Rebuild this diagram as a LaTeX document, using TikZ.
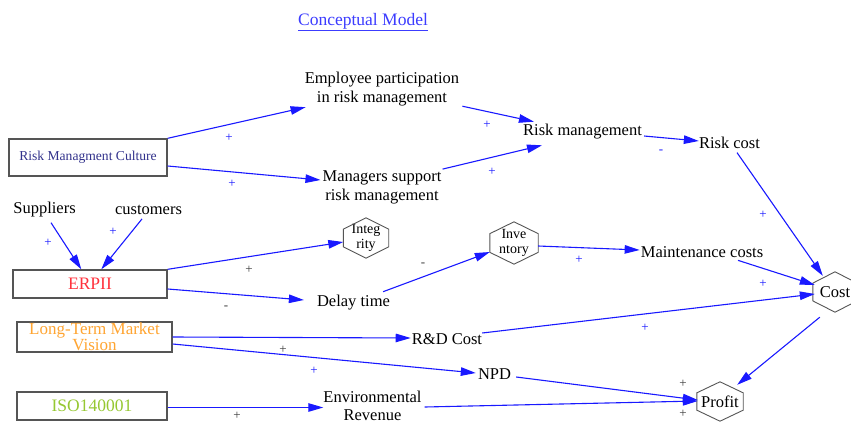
\documentclass[tikz,border=0pt]{standalone}
\usepackage{fontspec}
\setmainfont{Liberation Serif}
\newfontfamily\diagfont{Liberation Serif}
\usetikzlibrary{arrows.meta,calc}

\definecolor{linkblue}{RGB}{25,25,255}
\definecolor{titleblue}{RGB}{60,60,255}
\definecolor{framegray}{RGB}{85,85,85}
\definecolor{culturenavy}{RGB}{50,50,140}
\definecolor{erpred}{RGB}{255,50,60}
\definecolor{visionorange}{RGB}{255,165,50}
\definecolor{isogreen}{RGB}{150,200,50}
\definecolor{signdark}{RGB}{60,60,60}

\tikzset{
  lbl/.style={font=\diagfont\fontsize{16.5}{19}\selectfont, inner sep=0pt, align=center},
  hexlbl/.style={font=\diagfont\fontsize{14}{14.5}\selectfont, inner sep=0pt, align=center},
  framebox/.style={draw=framegray, line width=1.4pt, inner sep=0pt, align=center},
  hexline/.style={draw=framegray, line width=0.9pt},
  link/.style={draw=linkblue, line width=1.1pt, -{Triangle[length=15pt,width=8.5pt]}},
  plus/.style={font=\diagfont\fontsize{13}{13}\selectfont, inner sep=0pt, text=linkblue},
  plusdark/.style={font=\diagfont\fontsize{13}{13}\selectfont, inner sep=0pt, text=signdark}
}

% hexagon outline with pointed top and bottom, drawn round a named node
\newcommand\hexoutline[1]{%
  \draw[hexline] (#1.north)
    -- ($(#1.north east)!0.28!(#1.south east)$)
    -- ($(#1.north east)!0.72!(#1.south east)$)
    -- (#1.south)
    -- ($(#1.north west)!0.72!(#1.south west)$)
    -- ($(#1.north west)!0.28!(#1.south west)$)
    -- cycle;}

\begin{document}
\begin{tikzpicture}[x=1pt,y=-1pt]
\clip (0,0) rectangle (851,423);
\fill[white] (0,0) rectangle (851,423);

% title
\node[lbl, font=\diagfont\fontsize{17.5}{19}\selectfont, text=titleblue] (title) at (363,22) {\underline{Conceptual Model}};

% source boxes
\node[framebox, minimum width=158pt, minimum height=37pt, text=culturenavy,
      font=\diagfont\fontsize{13.6}{15}\selectfont] (rmc) at (88,157.5) {Risk Managment Culture};
\node[framebox, minimum width=154pt, minimum height=28pt, text=erpred,
      font=\diagfont\fontsize{17.5}{19}\selectfont] (erp) at (90,284) {ERPII};
\node[framebox, minimum width=155pt, minimum height=30pt, text=visionorange,
      font=\diagfont\fontsize{17}{12.5}\selectfont] (ltv) at (94.5,337) {Long-Term Market\\Vision};
\node[framebox, minimum width=150pt, minimum height=28pt, text=isogreen,
      font=\diagfont\fontsize{17.5}{19}\selectfont] (iso) at (92,406) {ISO140001};

% plain variables
\node[lbl] (emp) at (382,89) {Employee participation\\in risk management};
\node[lbl] (mgr) at (382,187) {Managers support\\risk management};
\node[lbl] (rm) at (582.5,132) {Risk management};
\node[lbl] (rc) at (729.5,143) {Risk cost};
\node[lbl] (sup) at (44.5,210) {Suppliers};
\node[lbl] (cus) at (148.5,210) {customers};
\node[lbl] (delay) at (353.5,303) {Delay time};
\node[lbl] (maint) at (702,252) {Maintenance costs};
\node[lbl] (rd) at (447,339) {R\&D Cost};
\node[lbl] (npd) at (494.5,374) {NPD};
\node[lbl, font=\diagfont\fontsize{16.5}{18}\selectfont] (env) at (372.5,406) {Environmental\\Revenue};

% hexagonal variables
\node[hexlbl, minimum width=45pt, minimum height=40pt] (integ) at (366,238) {Integ\\rity};
\node[hexlbl, minimum width=48pt, minimum height=42pt] (inv) at (514,243) {Inve\\ntory};
\node[lbl, minimum width=44pt, minimum height=40pt] (cost) at (835,292) {Cost};
\node[lbl, minimum width=46pt, minimum height=39pt] (profit) at (720,401.5) {Profit};
\hexoutline{integ}
\hexoutline{inv}
\hexoutline{cost}
\hexoutline{profit}

% causal links
\draw[link] (rmc.north east) -- ([shift={(1pt,-1pt)}]emp.south west);
\draw[link] ([yshift=-8.5pt]rmc.east) -- ([shift={(-2pt,7pt)}]mgr.west);
\draw[link] ([xshift=3pt]emp.south east) -- ([shift={(11pt,2.6pt)}]rm.north west);
\draw[link] ([shift={(1pt,1pt)}]mgr.north east) -- ([shift={(19pt,-5.6pt)}]rm.south west);
\draw[link] ([shift={(2pt,-4pt)}]rm.east) -- ([yshift=2pt]rc.west);
\draw[link] ([shift={(7.5pt,-3.6pt)}]rc.south) -- ([shift={(10pt,-4pt)}]cost.north west);
\draw[link] ([shift={(6.5pt,-5pt)}]sup.south) -- ([xshift=69pt]erp.north west);
\draw[link] ([shift={(-6.5pt,-4pt)}]cus.south) -- ([xshift=89pt]erp.north west);
\draw[link] (erp.north east) -- ([yshift=-4pt]integ.west);
\draw[link] ([yshift=-5pt]erp.east) -- ([shift={(-13pt,3pt)}]delay.west);
\draw[link] ([shift={(-7pt,3.6pt)}]delay.north east) -- ([yshift=-9pt]inv.west);
\draw[link] ([yshift=-3pt]inv.east) -- ([shift={(-1pt,2pt)}]maint.west);
\draw[link] ([shift={(36pt,-2.6pt)}]maint.south) -- ([shift={(2pt,7pt)}]cost.west);
\draw[link] ([yshift=6pt]rd.east) -- ([shift={(2pt,-2pt)}]cost.west);
\draw[link] ([shift={(7pt,-5pt)}]cost.south west) -- ([shift={(-6pt,-3pt)}]profit.north east);
\draw[link] (ltv.east) -- ([shift={(-1pt,1pt)}]rd.west);
\draw[link] ([yshift=-7pt]ltv.east) -- ([shift={(-2pt,1pt)}]npd.west);
\draw[link] ([shift={(5pt,-3pt)}]npd.east) -- ([shift={(1pt,1.5pt)}]profit.west);
\draw[link] ([yshift=-1.5pt]iso.east) -- ([yshift=-1.5pt]env.west);
\draw[link] ([shift={(3pt,-1pt)}]env.east) -- ([shift={(1pt,0.5pt)}]profit.west);

% link polarities
\node[plus] (s1) at (229,138) {+};
\node[plus] (s2) at (232,184) {+};
\node[plus] (s3) at (487,125) {+};
\node[plus] (s4) at (492,172) {+};
\node[plus] (s5) at (661,152) {-};
\node[plus] (s6) at (763,215) {+};
\node[plus] (s7) at (48,243) {+};
\node[plus] (s8) at (113,232) {+};
\node[plusdark] (s9) at (249,270) {+};
\node[plusdark] (s10) at (226,308) {-};
\node[plusdark] (s11) at (423,265) {-};
\node[plus] (s12) at (579,260) {+};
\node[plus] (s13) at (763,284) {+};
\node[plus] (s14) at (645,328) {+};
\node[plusdark] (s15) at (283,350) {+};
\node[plus] (s16) at (314,371) {+};
\node[plusdark] (s17) at (683,384) {+};
\node[plusdark] (s18) at (683,414) {+};
\node[plusdark] (s19) at (237,416) {+};
\end{tikzpicture}
\end{document}
